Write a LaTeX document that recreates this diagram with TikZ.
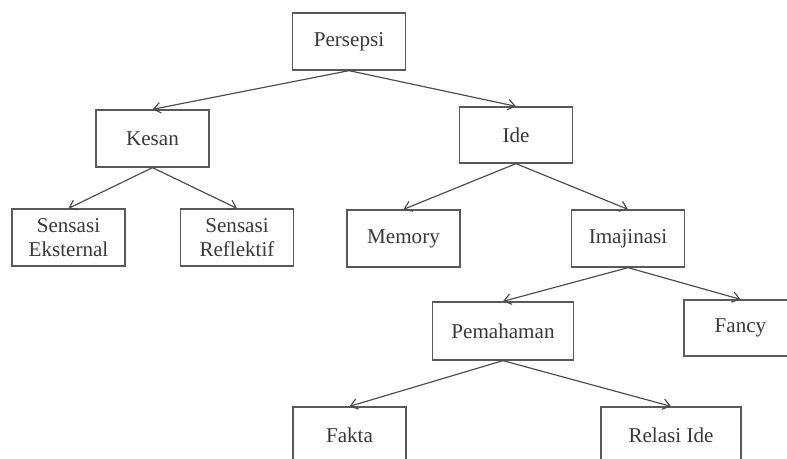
\documentclass[tikz,border=0pt]{standalone}
\usepackage{fontspec}
\setmainfont{Liberation Serif}
\usepackage{tikz}
\usetikzlibrary{arrows.meta}

\begin{document}
\begin{tikzpicture}[x=0.03cm, y=-0.03cm,
                    box/.style={draw=black!65, line width=1.1pt, minimum width=3.39cm, minimum height=1.71cm,
                                align=center, text=black!78, font=\fontsize{18}{21}\selectfont},
                    carrow/.style={->, draw=black!70, line width=1pt, >={Straight Barb[length=6pt, width=9pt]}}]
    \clip (0,0) rectangle (787,459);
    \draw (349,41.5) node[box] (per) {Persepsi}
          (152.5,138.5) node[box] (kes) {Kesan}
          (516,135) node[box, minimum height=1.68cm] (ide) {Ide}
          (68.5,237.5) node[box] (sek) {Sensasi\\Eksternal}
          (237,237.5) node[box] (sre) {Sensasi\\Reflektif}
          (403.5,238.5) node[box] (mem) {Memory}
          (628,238.5) node[box] (ima) {Imajinasi}
          (503,331) node[box, minimum width=4.23cm, minimum height=1.74cm] (pem) {Pemahaman}
          (740.5,328) node[box, minimum height=1.68cm] (fan) {Fancy}
          (349.5,435.5) node[box] (fak) {Fakta}
          (671,435.5) node[box, minimum width=4.2cm] (rel) {Relasi Ide};
    \draw[carrow] (per.south)--(kes.north);
    \draw[carrow] (per.south)--(ide.north);
    \draw[carrow] (kes.south)--(sek.north);
    \draw[carrow] (kes.south)--(sre.north);
    \draw[carrow] (ide.south)--(mem.north);
    \draw[carrow] (ide.south)--(ima.north);
    \draw[carrow] (ima.south)--(pem.north);
    \draw[carrow] (ima.south)--(fan.north);
    \draw[carrow] (pem.south)--(fak.north);
    \draw[carrow] (pem.south)--(rel.north);
\end{tikzpicture}
\end{document}
